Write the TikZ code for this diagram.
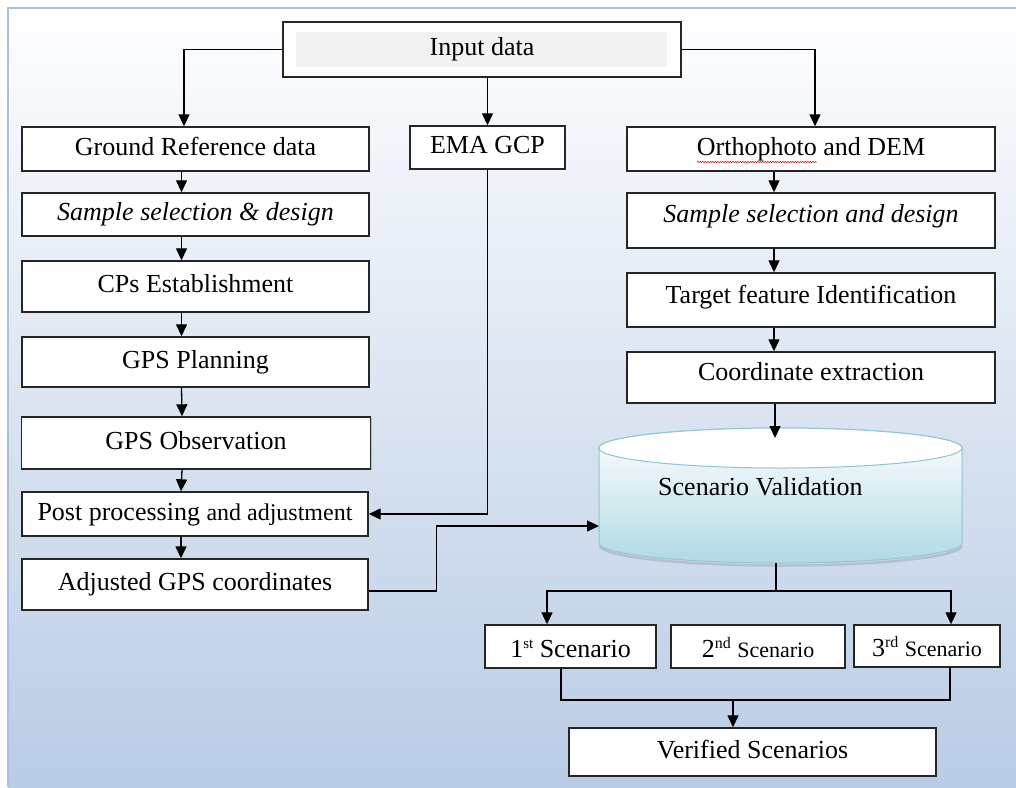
\documentclass[tikz,border=0pt]{standalone}
\usepackage{fontspec}
\setmainfont{Liberation Serif}
\usetikzlibrary{arrows.meta,decorations.pathmorphing,shadows,calc}
\definecolor{frameblue}{HTML}{A9C1E1}
\definecolor{bgtop}{HTML}{FEFEFF}
\definecolor{bgbot}{HTML}{B9CCE5}
\definecolor{cyledge}{HTML}{8EC6D3}
\definecolor{cylbot}{HTML}{B0DAE4}
\definecolor{boxline}{HTML}{262626}
\definecolor{innergray}{HTML}{F2F2F2}
\begin{document}
\begin{tikzpicture}[x=1pt,y=-1pt,
  every node/.style={font=\fontsize{26}{30}\selectfont},
  box/.style={draw=boxline, line width=1.4pt, fill=white, inner sep=0pt,
    text height=17pt, text depth=5pt,
    drop shadow={shadow xshift=1.2pt, shadow yshift=-1.2pt, opacity=0.3, fill=black!60}},
  arr/.style={line width=1.3pt, draw=black, -{Triangle[width=11pt,length=12pt]}},
  ln/.style={line width=1.3pt, draw=black}]
\useasboundingbox (0,0) rectangle (1016,787);
\fill[white] (0,0) rectangle (1016,787);
\shade[top color=bgtop, bottom color=bgbot] (8,8) rectangle (1016,787);
\draw[frameblue, line width=2pt] (8,787) -- (8,8) -- (1016,8);

% top
\node[box, minimum width=398pt, minimum height=55pt, line width=1.8pt,
  path picture={\fill[innergray] ([xshift=13pt,yshift=-10pt]path picture bounding box.north west) rectangle ([xshift=-14pt,yshift=10pt]path picture bounding box.south east);}]
  (inp) at (482,49.5) {Input data};

% left column
\node[box, minimum width=347pt, minimum height=44pt] (gr) at (195.5,149) {Ground Reference data};
\node[box, minimum width=347pt, minimum height=43pt] (ss1) at (195.5,214.5) {\itshape Sample selection \& design};
\node[box, minimum width=347pt, minimum height=51pt] (cp) at (195.5,286.5) {CPs Establishment};
\node[box, minimum width=347pt, minimum height=50pt] (gpl) at (195.5,362) {GPS Planning};
\node[box, minimum width=349pt, minimum height=52pt] (gob) at (196,443) {GPS Observation};
\node[box, minimum width=346pt, minimum height=44pt] (pp) at (195,514) {Post processing {\fontsize{24}{28}\selectfont and adjustment}};
\node[box, minimum width=346pt, minimum height=51pt] (adj) at (195,584.5) {Adjusted GPS coordinates};

% middle
\node[box, minimum width=155pt, minimum height=43pt] (em) at (487.5,147.5) {EMA GCP};

% right column
\node[box, minimum width=368pt, minimum height=44pt] (or) at (811,149) {Orthophoto and DEM};
\node[box, minimum width=368pt, minimum height=55pt, text depth=14pt] (ss2) at (811,220.5) {\itshape Sample selection and design};
\node[box, minimum width=368pt, minimum height=54pt, text depth=11pt] (tf) at (811,300) {Target feature Identification};
\node[box, minimum width=368pt, minimum height=51pt, text depth=12pt] (ce) at (811,377.5) {Coordinate extraction};

\draw[red!85!black, line width=0.5pt, decorate, decoration={snake, amplitude=0.7pt, segment length=2.5pt}] (697,162) -- (817,162);

% cylinder
\draw[black, opacity=0.12, line width=2.5pt] (600,545.5) arc[start angle=180,end angle=360,x radius=181pt,y radius=20pt];
\shadedraw[top color=white, bottom color=cylbot, draw=cyledge, line width=1pt]
  (599,448) -- (599,543) arc[start angle=180,end angle=360,x radius=181.5pt,y radius=20pt]
  -- (962,448) arc[start angle=0,end angle=180,x radius=181.5pt,y radius=20pt] -- cycle;
\filldraw[fill=white, draw=cyledge, line width=1pt] (780.5,448) ellipse [x radius=181.5pt, y radius=20pt];
\node[inner sep=0pt, minimum width=363pt, minimum height=135pt] (sv) at (780.5,495.5) {};
\node[anchor=base west, inner sep=0pt] (svt) at (658,495) {Scenario Validation};
\coordinate (svin) at (775,438);
\coordinate (svl) at (599,526);
\coordinate (svb) at (776,563);

% scenarios
\node[box, minimum width=171pt, minimum height=43pt, text height=26pt] (s1) at (570.5,646.5)
  {1\raisebox{9pt}{\fontsize{15}{15}\selectfont st} Scenario};
\node[box, minimum width=174pt, minimum height=43pt, text height=26pt] (s2) at (758,646.5)
  {2\raisebox{9pt}{\fontsize{16}{16}\selectfont nd} {\fontsize{22}{26}\selectfont Scenario}};
\node[box, minimum width=146pt, minimum height=42pt, text height=26pt] (s3) at (927,646)
  {3\raisebox{9pt}{\fontsize{16}{16}\selectfont rd} {\fontsize{22}{26}\selectfont Scenario}};
\node[box, minimum width=367pt, minimum height=48pt] (vs) at (752.5,752) {Verified Scenarios};
\coordinate (jn) at (776,591);
\coordinate (mg) at (733,700);

% connectors
\draw[arr] (inp.west) -| ([xshift=-11.5pt]gr.north);
\draw[arr] (inp.south -| em.north) -- (em.north);
\draw[arr] (inp.east) -| ([xshift=4pt]or.north);
\foreach \a/\b in {gr/ss1, ss1/cp, cp/gpl, gpl/gob, gob/pp, pp/adj}
  \draw[arr] ([xshift=-14pt]\a.south) -- ([xshift=-14pt]\b.north);
\foreach \a/\b in {or/ss2, ss2/tf, tf/ce}
  \draw[arr] ([xshift=-37pt]\a.south) -- ([xshift=-37pt]\b.north);
\draw[arr] ([xshift=-36pt]ce.south) -- (svin);
\draw[arr] (em.south) |- (pp.east);
\draw[arr] ([yshift=-6.5pt]adj.east) -- ++(68,0) |- (svl);
\draw[ln] (svb) -- (jn);
\draw[arr] (jn) -| ([xshift=-23.5pt]s1.north);
\draw[arr] (jn) -| ([xshift=24pt]s3.north);
\draw[ln] ([xshift=-9.5pt]s1.south) |- (mg) -| ([xshift=23pt]s3.south);
\draw[arr] (mg) -- (mg |- vs.north);
\end{tikzpicture}
\end{document}
